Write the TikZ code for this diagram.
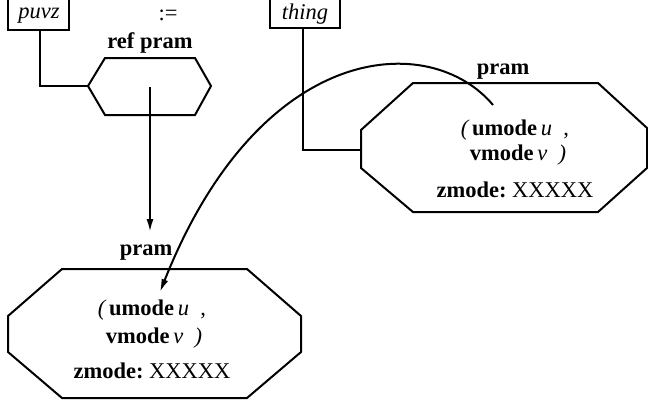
\documentclass[tikz,border=0pt]{standalone}
\usepackage{fontspec}
\setmainfont{Liberation Serif}
\usetikzlibrary{arrows.meta}
\begin{document}
\begin{tikzpicture}[x=1pt,y=-1pt,
  every node/.style={inner sep=0pt,font=\fontsize{22.5}{26}\selectfont},
  outline/.style={line width=2pt,line join=miter},
  wire/.style={line width=1.7pt},
  arr/.style={line width=2pt,-{Latex[length=13pt,width=7pt]}}]
\useasboundingbox (0,0) rectangle (648,400);

% --- puvz box and hexagon ---
\coordinate (pbL) at (8,0); \coordinate (pbR) at (69,0);
\draw[outline] (pbL) |- (69,30) -- (pbR);
\node[anchor=base] (puvz) at (39,18) {\itshape puvz};
\coordinate (pbOut) at (40,30);
\node[anchor=base] (assign) at (168,20) {:=};
\node[anchor=base] (refpram) at (150,48) {\bfseries ref pram};
\coordinate (hL) at (88,86); \coordinate (hR) at (211,86);
\draw[outline] (hL) -- (105,58) -- (195,58) -- (hR) -- (195,115) -- (105,115) -- cycle;
\coordinate (hC) at (150,87);
\draw[wire] (pbOut) |- (hL);

% --- lower octagon ---
\node[anchor=base] (pramA) at (146,255) {\bfseries pram};
\draw[outline] (62,269) -- (247,269) -- (301,316) -- (301,352) -- (247,398) -- (62,398) -- (8,352) -- (8,316) -- cycle;
\node[anchor=base] (lu) at (152,315) {\itshape(\,\upshape\bfseries umode\,\mdseries\itshape u\enspace\upshape,};
\node[anchor=base] (lv) at (154,343) {\bfseries vmode\,\mdseries\itshape v\enspace)};
\node[anchor=base] (lz) at (152,378) {\bfseries zmode:\mdseries\ XXXXX};
\coordinate (lTop) at (150,232);
\coordinate (lIn) at (160,292);
\draw[arr] (hC) -- (lTop);

% --- thing box and upper octagon ---
\coordinate (tbL) at (270,0); \coordinate (tbR) at (340,0);
\draw[outline] (tbL) |- (340,28) -- (tbR);
\node[anchor=base] (thing) at (305,19) {\itshape thing};
\coordinate (tbOut) at (303,28);
\node[anchor=base] (pramB) at (503,74) {\bfseries pram};
\coordinate (oL) at (361,150);
\draw[outline] (413,83) -- (598,83) -- (647,128) -- (647,168) -- (598,212) -- (413,212) -- (361,168) -- (361,130) -- cycle;
\node[anchor=base] (uu) at (515,135) {\itshape(\,\upshape\bfseries umode\,\mdseries\itshape u\enspace\upshape,};
\node[anchor=base] (uv) at (518,160) {\bfseries vmode\,\mdseries\itshape v\enspace)};
\node[anchor=base] (uz) at (515,197) {\bfseries zmode:\mdseries\ XXXXX};
\draw[wire] (tbOut) |- (oL);
\coordinate (uStart) at (493,105);

% --- curved pointer ---
\draw[arr] (uStart) .. controls (430,30) and (260,40) .. (lIn);
\end{tikzpicture}
\end{document}
